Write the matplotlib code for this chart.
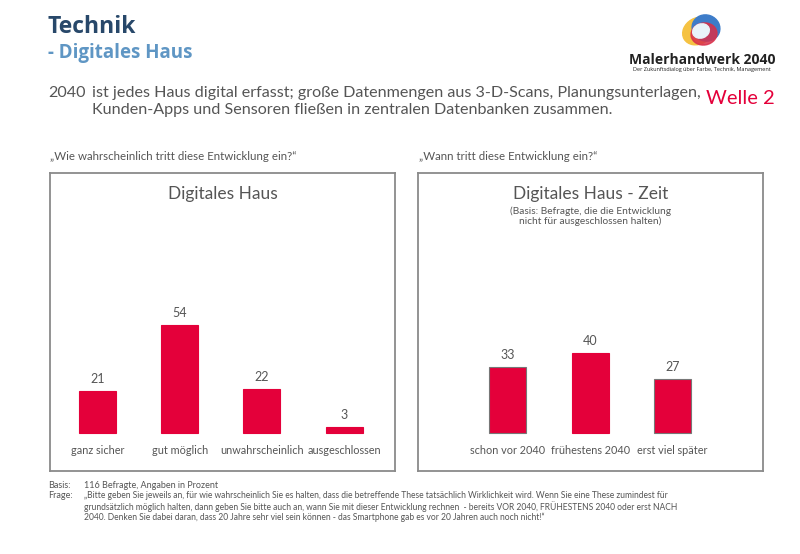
import matplotlib.pyplot as plt
from matplotlib.patches import Ellipse

plt.rcParams['font.family'] = ['Lato', 'DejaVu Sans']

# Daten
kategorien_links = ['ganz sicher', 'gut möglich', 'unwahrscheinlich', 'ausgeschlossen']
werte_links = [21, 54, 22, 3]
kategorien_rechts = ['schon vor 2040', 'frühestens 2040', 'erst viel später']
werte_rechts = [33, 40, 27]

ROT = '#E4003A'
GRAU = '#555555'
RAHMEN = '#8a8a8a'
TITEL = ['Open Sans', 'DejaVu Sans']

W, H = 800, 554
fig = plt.figure(figsize=(8, 5.54), dpi=100)


def fx(x):
    return x / W


def fy(y):
    return 1 - y / H


def box_axes(x0, x1, y0=173, y1=471):
    ax = fig.add_axes([fx(x0), fy(y1), fx(x1 - x0), (y1 - y0) / H])
    for s in ax.spines.values():
        s.set_color(RAHMEN)
        s.set_linewidth(1.3)
    ax.set_xticks([])
    ax.set_yticks([])
    ax.set_ylim(-19, 130)
    return ax


def bars(ax, kategorien, werte, edges):
    pos = list(range(len(werte)))
    ax.bar(pos, werte, width=0.45, color=ROT, edgecolor=edges, linewidth=0.8)
    for p, v, k in zip(pos, werte, kategorien):
        ax.text(p, v + 3, str(v), ha='center', va='bottom', fontsize=9, color=GRAU)
        ax.text(p, -8.5, k, ha='center', va='center', fontsize=7.8, color=GRAU)


# Kopfbereich
fig.text(fx(47), fy(27), 'Technik', fontsize=16.5, fontweight='bold', color='#28486a', va='center', family=TITEL)
fig.text(fx(48), fy(53), '- Digitales Haus', fontsize=13.5, fontweight='bold', color='#5f96c4', va='center',
         family=TITEL)
fig.text(fx(48), fy(93), '2040', fontsize=11.6, color=GRAU, va='center')
fig.text(fx(92), fy(93), 'ist jedes Haus digital erfasst; große Datenmengen aus 3-D-Scans, Planungsunterlagen,',
         fontsize=11.6, color=GRAU, va='center')
fig.text(fx(92), fy(110), 'Kunden-Apps und Sensoren fließen in zentralen Datenbanken zusammen.',
         fontsize=11.6, color=GRAU, va='center')
fig.text(fx(706), fy(98), 'Welle 2', fontsize=14.5, color=ROT, va='center')

# Logo
logo = fig.add_axes([fx(680), fy(50), fx(44), 38 / H])
logo.set_xlim(0, 44)
logo.set_ylim(0, 38)
logo.axis('off')
logo.add_patch(Ellipse((18, 19), 32, 26, angle=30, color='#f5c242'))
logo.add_patch(Ellipse((26, 22), 28, 26, angle=-20, color='#3d7cc9'))
logo.add_patch(Ellipse((24, 16), 26, 22, angle=10, color='#d9304a', alpha=0.85))
logo.add_patch(Ellipse((21, 19), 17, 14, angle=20, color='#e9f3fa'))
fig.text(fx(702), fy(60), 'Malerhandwerk 2040', fontsize=10, fontweight='bold', color='#222222',
         ha='center', va='center', family=TITEL)
fig.text(fx(702), fy(69), 'Der Zukunftsdialog über Farbe, Technik, Management', fontsize=4, color='#222222',
         ha='center', va='center', family=TITEL)

# Fragen
fig.text(fx(50), fy(157), '„Wie wahrscheinlich tritt diese Entwicklung ein?“', fontsize=8.3, color=GRAU, va='center')
fig.text(fx(419), fy(157), '„Wann tritt diese Entwicklung ein?“', fontsize=8.3, color=GRAU, va='center')

# linkes Diagramm
ax1 = box_axes(50, 395)
ax1.set_xlim(-0.58, 3.62)
bars(ax1, kategorien_links, werte_links, [ROT] * 4)
ax1.text(0.5, 0.93, 'Digitales Haus', transform=ax1.transAxes, ha='center', va='center',
         fontsize=12.5, color=GRAU)

# rechtes Diagramm
ax2 = box_axes(418, 763)
ax2.set_xlim(-1.09, 3.1)
bars(ax2, kategorien_rechts, werte_rechts, ['#777777', ROT, '#777777'])
ax2.text(0.5, 0.93, 'Digitales Haus - Zeit', transform=ax2.transAxes, ha='center', va='center',
         fontsize=12.5, color=GRAU)
ax2.text(0.5, 0.855, '(Basis: Befragte, die die Entwicklung\nnicht für ausgeschlossen halten)',
         transform=ax2.transAxes, ha='center', va='center', fontsize=7.3, color=GRAU, linespacing=0.95)

# Fußzeile
fig.text(fx(48), fy(485), 'Basis:', fontsize=6.5, color=GRAU, va='center')
fig.text(fx(84), fy(485), '116 Befragte, Angaben in Prozent', fontsize=6.5, color=GRAU, va='center')
fig.text(fx(48), fy(496), 'Frage:', fontsize=6.5, color=GRAU, va='center')
frage = ['„Bitte geben Sie jeweils an, für wie wahrscheinlich Sie es halten, dass die betreffende These tatsächlich Wirklichkeit wird. Wenn Sie eine These zumindest für',
         'grundsätzlich möglich halten, dann geben Sie bitte auch an, wann Sie mit dieser Entwicklung rechnen  - bereits VOR 2040, FRÜHESTENS 2040 oder erst NACH',
         '2040. Denken Sie dabei daran, dass 20 Jahre sehr viel sein können - das Smartphone gab es vor 20 Jahren auch noch nicht!“']
for i, zeile in enumerate(frage):
    fig.text(fx(84), fy(496 + i * 10.5), zeile, fontsize=6.15, color=GRAU, va='center')

fig.savefig('out.png', dpi=100)
